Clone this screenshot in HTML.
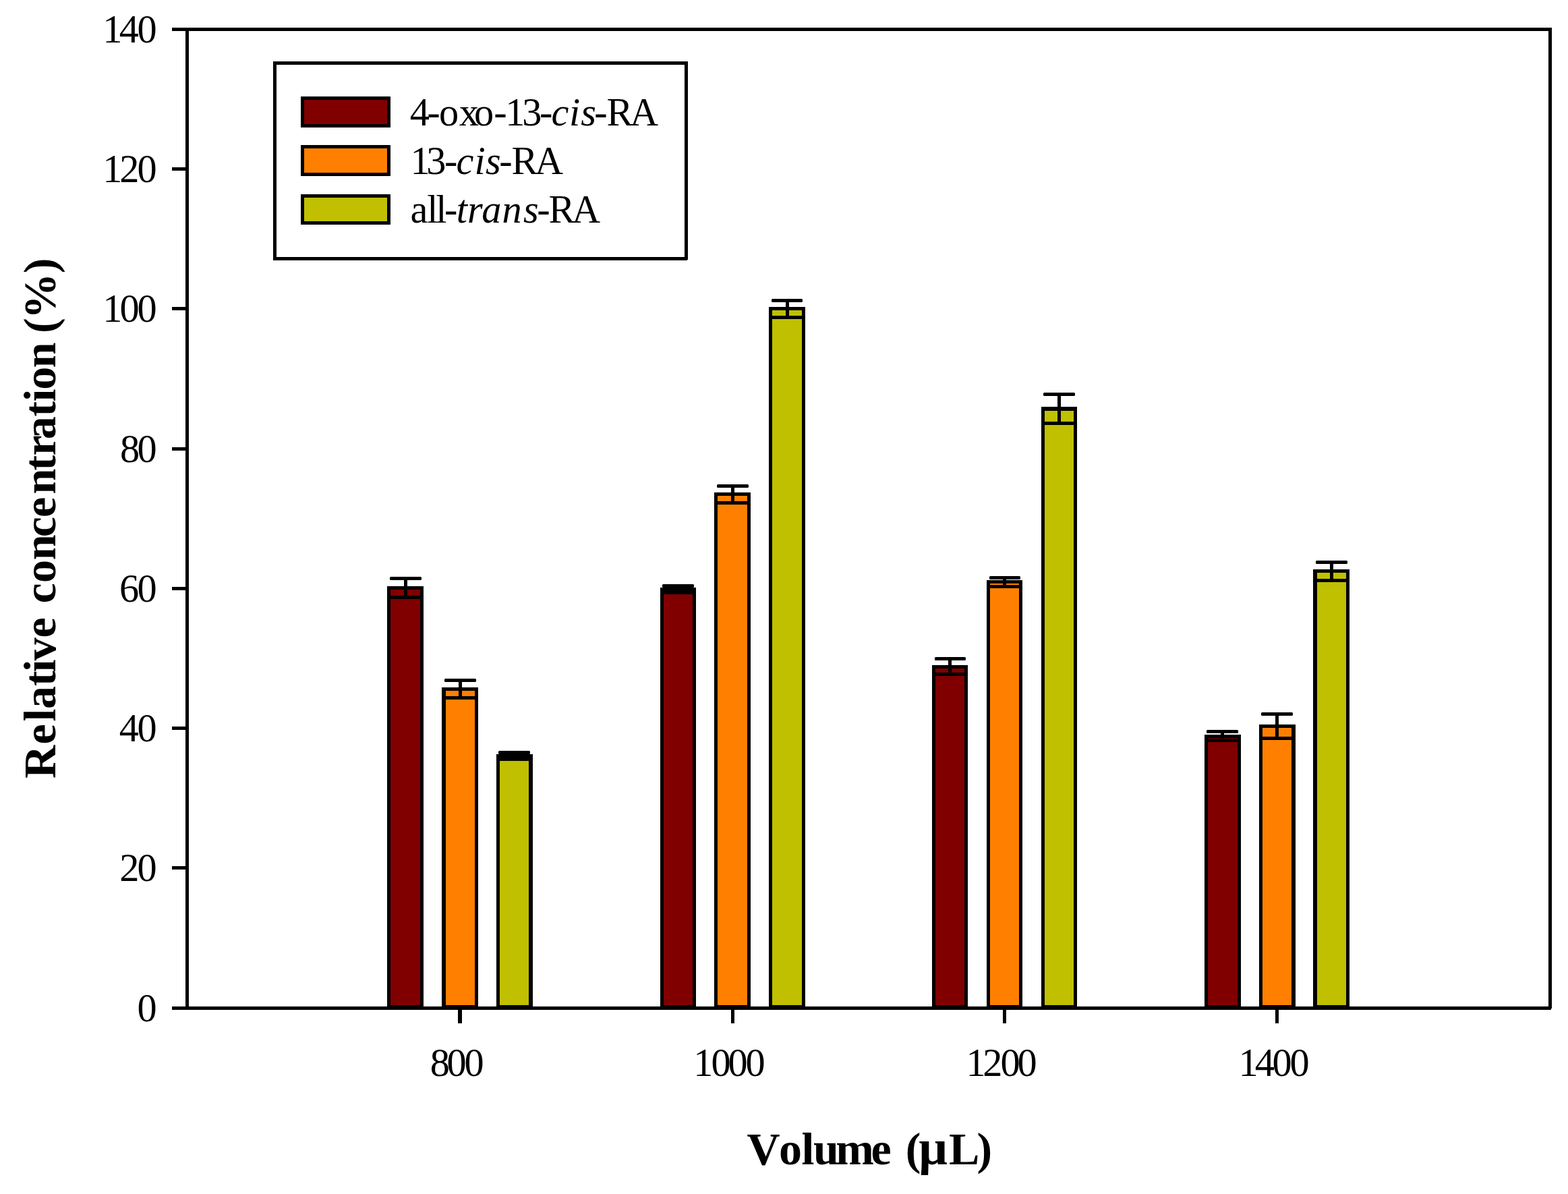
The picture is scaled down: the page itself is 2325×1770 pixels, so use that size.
<!DOCTYPE html>
<html lang="en"><head><meta charset="utf-8"><title>Relative concentration vs volume</title>
<style>
html,body{margin:0;padding:0;background:#fff;}
body{width:2325px;height:1770px;overflow:hidden;}
svg{display:block;}
text{font-family:"Liberation Serif","DejaVu Serif",serif;fill:#000;white-space:pre;}
.t{font-size:58.33px;}
.b{font-size:68px;font-weight:bold;}
.i{font-style:italic;}
.m{font-size:75px;}
</style></head><body>
<svg width="2325" height="1770" viewBox="0 0 2325 1770">
<rect x="0" y="0" width="2325" height="1770" fill="#fff"/>
<g shape-rendering="crispEdges">
<rect x="574" y="869" width="54" height="626" fill="#000"/>
<rect x="579" y="874" width="44" height="616" fill="#800000"/>
<rect x="655" y="1019" width="54" height="476" fill="#000"/>
<rect x="661" y="1024" width="43" height="466" fill="#FF8000"/>
<rect x="736" y="1118" width="54" height="377" fill="#000"/>
<rect x="741" y="1123" width="43" height="367" fill="#C0C000"/>
<rect x="979" y="871" width="53" height="624" fill="#000"/>
<rect x="984" y="876" width="43" height="614" fill="#800000"/>
<rect x="1059" y="730" width="54" height="765" fill="#000"/>
<rect x="1064" y="735" width="44" height="755" fill="#FF8000"/>
<rect x="1140" y="455" width="54" height="1040" fill="#000"/>
<rect x="1145" y="460" width="44" height="1030" fill="#C0C000"/>
<rect x="1382" y="986" width="53" height="509" fill="#000"/>
<rect x="1387" y="991" width="43" height="499" fill="#800000"/>
<rect x="1463" y="860" width="53" height="635" fill="#000"/>
<rect x="1468" y="865" width="43" height="625" fill="#FF8000"/>
<rect x="1544" y="603" width="53" height="892" fill="#000"/>
<rect x="1549" y="609" width="43" height="881" fill="#C0C000"/>
<rect x="1786" y="1089" width="54" height="406" fill="#000"/>
<rect x="1791" y="1094" width="44" height="396" fill="#800000"/>
<rect x="1867" y="1074" width="54" height="421" fill="#000"/>
<rect x="1872" y="1079" width="43" height="411" fill="#FF8000"/>
<rect x="1947" y="844" width="54" height="651" fill="#000"/>
<rect x="1953" y="849" width="43" height="641" fill="#C0C000"/>
</g>
<g fill="#000">
<rect x="578" y="855" width="47" height="5" rx="1.5"/>
<rect x="578" y="883" width="47" height="5" rx="1.5"/>
<rect x="599" y="856" width="5" height="31"/>
<rect x="659" y="1006" width="47" height="5" rx="1.5"/>
<rect x="659" y="1032" width="47" height="5" rx="1.5"/>
<rect x="680" y="1007" width="5" height="29"/>
<rect x="739" y="1113" width="47" height="5" rx="1.5"/>
<rect x="739" y="1123" width="47" height="5" rx="1.5"/>
<rect x="760" y="1114" width="5" height="13"/>
<rect x="982" y="866" width="47" height="5" rx="1.5"/>
<rect x="982" y="876" width="47" height="5" rx="1.5"/>
<rect x="1003" y="867" width="5" height="13"/>
<rect x="1063" y="718" width="47" height="5" rx="1.5"/>
<rect x="1063" y="743" width="47" height="5" rx="1.5"/>
<rect x="1084" y="719" width="5" height="28"/>
<rect x="1144" y="443" width="46" height="5" rx="1.5"/>
<rect x="1144" y="468" width="46" height="5" rx="1.5"/>
<rect x="1165" y="444" width="5" height="28"/>
<rect x="1386" y="974" width="46" height="5" rx="1.5"/>
<rect x="1386" y="997" width="46" height="5" rx="1.5"/>
<rect x="1406" y="975" width="5" height="26"/>
<rect x="1467" y="854" width="46" height="5" rx="1.5"/>
<rect x="1467" y="867" width="46" height="5" rx="1.5"/>
<rect x="1487" y="855" width="5" height="16"/>
<rect x="1547" y="582" width="47" height="5" rx="1.5"/>
<rect x="1547" y="625" width="47" height="5" rx="1.5"/>
<rect x="1568" y="583" width="5" height="46"/>
<rect x="1789" y="1082" width="47" height="5" rx="1.5"/>
<rect x="1789" y="1095" width="47" height="5" rx="1.5"/>
<rect x="1810" y="1083" width="5" height="16"/>
<rect x="1870" y="1056" width="47" height="5" rx="1.5"/>
<rect x="1870" y="1092" width="47" height="5" rx="1.5"/>
<rect x="1891" y="1057" width="5" height="39"/>
<rect x="1951" y="831" width="47" height="5" rx="1.5"/>
<rect x="1951" y="858" width="47" height="5" rx="1.5"/>
<rect x="1972" y="832" width="5" height="30"/>
</g>
<g fill="#000" shape-rendering="crispEdges">
<rect x="275" y="41" width="5" height="1456"/>
<rect x="2296" y="41" width="5" height="1454"/>
<rect x="275" y="41" width="2026" height="5"/>
<rect x="275" y="1492" width="2025" height="5"/>
<rect x="255" y="1492" width="21" height="5"/>
<rect x="255" y="1284" width="21" height="5"/>
<rect x="255" y="1077" width="21" height="5"/>
<rect x="255" y="870" width="21" height="5"/>
<rect x="255" y="663" width="21" height="5"/>
<rect x="255" y="455" width="21" height="5"/>
<rect x="255" y="248" width="21" height="5"/>
<rect x="255" y="41" width="21" height="5"/>
<rect x="679" y="1496" width="6" height="21"/>
<rect x="1084" y="1496" width="5" height="21"/>
<rect x="1487" y="1496" width="5" height="21"/>
<rect x="1891" y="1496" width="5" height="21"/>
</g>
<g shape-rendering="crispEdges">
<rect x="405" y="91" width="615" height="294" fill="#000"/>
<rect x="405" y="381" width="614" height="5" fill="#000"/>
<rect x="410" y="96" width="605" height="285" fill="#fff"/>
<rect x="446" y="143" width="133" height="46" fill="#000"/>
<rect x="451" y="148" width="123" height="36" fill="#800000"/>
<rect x="446" y="215" width="133" height="46" fill="#000"/>
<rect x="451" y="220" width="123" height="36" fill="#FF8000"/>
<rect x="446" y="288" width="133" height="45" fill="#000"/>
<rect x="451" y="293" width="123" height="35" fill="#C0C000"/>
</g>
<text class="t" y="185.8"><tspan x="607.7 633.3 650.9 680.7 702.9 732.2 749.2 774.3 800.1">4-oxo-13-</tspan><tspan class="i" x="817.5 844 861.2">cis</tspan><tspan x="881.3 899.5 933.9">-RA</tspan></text>
<text class="t" y="257.6"><tspan x="608.4 632.3 659.1">13-</tspan><tspan class="i" x="676.4 703.4 720.1">cis</tspan><tspan x="740.3 758.4 793">-RA</tspan></text>
<text class="t" y="330.1"><tspan x="608.6 633.3 646.2 659.1">all-</tspan><tspan class="i" x="676.8 693 714.2 744.4 775.9">trans</tspan><tspan x="796.3 813.5 848">-RA</tspan></text>
<text class="t" y="1513.6"><tspan x="203.5">0</tspan></text>
<text class="t" y="1305.6"><tspan x="177.2 203.5">20</tspan></text>
<text class="t" y="1098.6"><tspan x="176.7 203.5">40</tspan></text>
<text class="t" y="891.6"><tspan x="177 203.5">60</tspan></text>
<text class="t" y="684.6"><tspan x="177.9 203.5">80</tspan></text>
<text class="t" y="476.6"><tspan x="152.3 177.4 203.5">100</tspan></text>
<text class="t" y="269.6"><tspan x="152.3 177.2 203.5">120</tspan></text>
<text class="t" y="62.6"><tspan x="152.3 176.7 203.5">140</tspan></text>
<text class="t" y="1594.5"><tspan x="637.8 662.4 688.5">800</tspan></text>
<text class="t" y="1594.5"><tspan x="1028.3 1054.4 1079.4 1105.6">1000</tspan></text>
<text class="t" y="1594.5"><tspan x="1432.4 1457.2 1483.4 1508.5">1200</tspan></text>
<text class="t" y="1594.5"><tspan x="1836.4 1860.8 1886.4 1912.5">1400</tspan></text>
<text class="b" y="1725.6"><tspan x="1107.4 1155.1 1188.5 1205.9 1239.3 1291.6 1321.8 1342.7">Volume (</tspan><tspan class="m" x="1361.9">µ</tspan><tspan x="1407 1448.5">L)</tspan></text>
<text class="b" y="81.5" transform="rotate(-90)"><tspan x="-1153.9 -1103.4 -1069.6 -1051 -1017 -996.5 -979.2 -945.4 -915.2 -894.4 -863.9 -830.2 -796.2 -766.9 -732.4 -697.6 -675.6 -651.3 -617.5 -595.6 -577.8 -545.2 -507.4 -494 -472.7 -405.3">Relative concentration (%)</tspan></text>
</svg>
</body></html>
